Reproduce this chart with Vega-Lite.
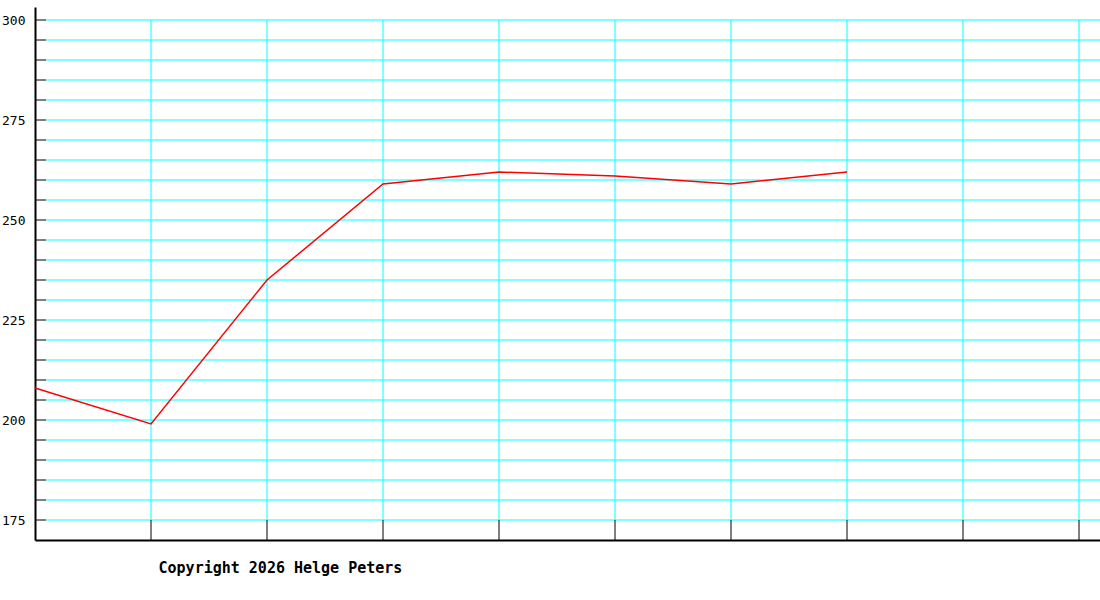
{
  "$schema": "https://vega.github.io/schema/vega-lite/v6.json",
  "width": 1065,
  "height": 533,
  "autosize": {"type": "none"},
  "padding": {"left": 35, "top": 7, "right": 0, "bottom": 60},
  "background": "white",
  "title": {
    "text": "Copyright 2026 Helge Peters",
    "orient": "bottom",
    "anchor": "start",
    "dx": 157,
    "offset": 20,
    "font": "DejaVu Sans Mono",
    "fontSize": 15,
    "fontWeight": "bold",
    "color": "black"
  },
  "datasets": {
    "levels": [
      {"v": 175}, {"v": 180}, {"v": 185}, {"v": 190}, {"v": 195}, {"v": 200},
      {"v": 205}, {"v": 210}, {"v": 215}, {"v": 220}, {"v": 225}, {"v": 230},
      {"v": 235}, {"v": 240}, {"v": 245}, {"v": 250}, {"v": 255}, {"v": 260},
      {"v": 265}, {"v": 270}, {"v": 275}, {"v": 280}, {"v": 285}, {"v": 290},
      {"v": 295}, {"v": 300}
    ],
    "columns": [
      {"c": 1}, {"c": 2}, {"c": 3}, {"c": 4}, {"c": 5}, {"c": 6}, {"c": 7}, {"c": 8}, {"c": 9}
    ],
    "series": [
      {"x": 0, "value": 208},
      {"x": 1, "value": 199},
      {"x": 2, "value": 235},
      {"x": 3, "value": 259},
      {"x": 4, "value": 262},
      {"x": 5, "value": 261},
      {"x": 6, "value": 259},
      {"x": 7, "value": 262}
    ]
  },
  "layer": [
    {
      "data": {"name": "levels"},
      "mark": {"type": "rule", "color": "#00FFFF", "strokeWidth": 1},
      "encoding": {
        "x": {
          "datum": 0.0948,
          "type": "quantitative",
          "scale": {"domain": [0, 9.181], "nice": false, "zero": false},
          "axis": {"domain": true, "domainColor": "black", "domainWidth": 2, "labels": false, "ticks": false, "grid": false, "title": null}
        },
        "x2": {"datum": 9.181},
        "y": {
          "field": "v",
          "type": "quantitative",
          "scale": {"domain": [170, 303.25], "nice": false, "zero": false},
          "axis": {
            "values": [175, 200, 225, 250, 275, 300],
            "domain": true,
            "domainColor": "black",
            "domainWidth": 2,
            "ticks": false,
            "grid": false,
            "title": null,
            "labelPadding": 10,
            "labelFont": "DejaVu Sans Mono",
            "labelFontSize": 13,
            "labelColor": "black"
          }
        }
      }
    },
    {
      "data": {"name": "levels"},
      "mark": {"type": "rule", "color": "black", "strokeWidth": 1},
      "encoding": {
        "x": {"datum": 0, "type": "quantitative"},
        "x2": {"datum": 0.0948},
        "y": {"field": "v", "type": "quantitative"}
      }
    },
    {
      "data": {"name": "columns"},
      "mark": {"type": "rule", "color": "#00FFFF", "strokeWidth": 1},
      "encoding": {
        "x": {"field": "c", "type": "quantitative"},
        "y": {"datum": 175, "type": "quantitative"},
        "y2": {"datum": 300}
      }
    },
    {
      "data": {"name": "columns"},
      "mark": {"type": "rule", "color": "black", "strokeWidth": 1},
      "encoding": {
        "x": {"field": "c", "type": "quantitative"},
        "y": {"datum": 170, "type": "quantitative"},
        "y2": {"datum": 175}
      }
    },
    {
      "data": {"name": "series"},
      "mark": {"type": "line", "color": "#FF0000", "strokeWidth": 1.5},
      "encoding": {
        "x": {"field": "x", "type": "quantitative"},
        "y": {"field": "value", "type": "quantitative"}
      }
    }
  ],
  "config": {"view": {"stroke": null}}
}
